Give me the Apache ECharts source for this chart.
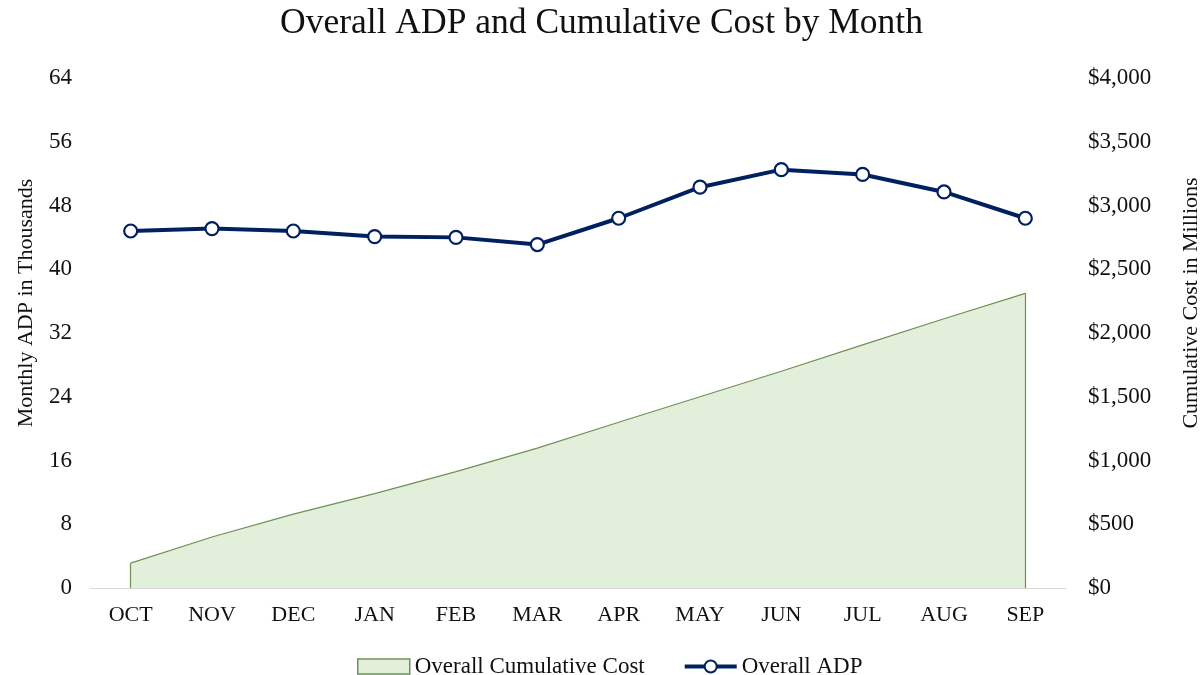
<!DOCTYPE html>
<html>
<head>
	<meta charset="utf-8">
	<title>Overall ADP and Cumulative Cost by Month</title>
	<script src="https://cdn.jsdelivr.net/npm/echarts@6/dist/echarts.min.js"></script>
	<style>
		html, body { margin: 0; padding: 0; background: #fff; }
		#container { width: 1203px; height: 675px; }
	</style>
</head>
<body>
<div id="container"></div>
<script type="text/javascript">
	var months = ['OCT', 'NOV', 'DEC', 'JAN', 'FEB', 'MAR', 'APR', 'MAY', 'JUN', 'JUL', 'AUG', 'SEP'];
	// monthly ADP, thousands
	var adp = [44.8, 45.1, 44.8, 44.1, 44.0, 43.1, 46.4, 50.3, 52.5, 51.9, 49.7, 46.4];
	// cumulative cost, millions of dollars
	var cumCost = [195, 400, 580, 740, 913, 1097, 1300, 1500, 1700, 1907, 2112, 2311];

	var serif = 'Liberation Serif';
	var ink = '#111';

	var myChart = echarts.init(document.getElementById('container'));

	var option = {
		animation: false,
		title: {
			text: 'Overall ADP and Cumulative Cost by Month',
			left: 'center',
			top: 1,
			textStyle: { fontFamily: serif, fontSize: 35.5, fontWeight: 'normal', color: ink }
		},
		legend: {
			top: 650,
			left: 352,
			itemWidth: 52,
			itemHeight: 15,
			itemGap: 38,
			textStyle: { fontFamily: serif, fontSize: 23, color: ink },
			data: [
				{ name: 'Overall Cumulative Cost', icon: 'rect',
				  itemStyle: { color: '#E2EFDA', borderColor: '#6F9154', borderWidth: 1.5 } },
				{ name: 'Overall ADP', lineStyle: { width: 4, color: '#002060' } }
			]
		},
		grid: { left: 90, right: 137, top: 78, bottom: 87, outerBoundsMode: 'none' },
		xAxis: {
			type: 'category',
			data: months,
			boundaryGap: true,
			axisLine: { lineStyle: { color: '#D9D9D9', width: 1 } },
			axisTick: { show: false },
			axisLabel: { fontFamily: serif, fontSize: 22, color: ink, margin: 16 }
		},
		yAxis: [{
			type: 'value',
			min: 0, max: 64, interval: 8,
			name: 'Monthly ADP in Thousands',
			nameLocation: 'middle',
			nameRotate: 90,
			nameGap: 53,
			nameTextStyle: { fontFamily: serif, fontSize: 22, color: ink, padding: [0, 0, 0, 60] },
			axisLine: { show: false },
			axisTick: { show: false },
			splitLine: { show: false },
			axisLabel: { fontFamily: serif, fontSize: 23, color: ink, margin: 18 }
		}, {
			type: 'value',
			position: 'right',
			min: 0, max: 4000, interval: 500,
			name: 'Cumulative Cost in Millions',
			nameLocation: 'middle',
			nameRotate: 90,
			nameGap: 114,
			nameTextStyle: { fontFamily: serif, fontSize: 22, color: ink, padding: [0, 0, 0, 60] },
			axisLine: { show: false },
			axisTick: { show: false },
			splitLine: { show: false },
			axisLabel: {
				fontFamily: serif, fontSize: 23, color: ink, margin: 22,
				formatter: function (v) { return '$' + v.toLocaleString('en-US'); }
			}
		}],
		series: [{
			name: 'Overall Cumulative Cost',
			type: 'line',
			yAxisIndex: 1,
			data: cumCost,
			symbol: 'none',
			lineStyle: { color: '#6F9154', width: 1.2 },
			itemStyle: { color: '#E2EFDA', borderColor: '#6F9154' },
			areaStyle: { color: '#E2EFDA', opacity: 1 },
			z: 1,
			markLine: {
				silent: true,
				symbol: 'none',
				label: { show: false },
				lineStyle: { color: '#6F9154', width: 1.2, type: 'solid' },
				data: [
					[{ coord: [months[0], 0] }, { coord: [months[0], cumCost[0]] }],
					[{ coord: [months[months.length - 1], 0] }, { coord: [months[months.length - 1], cumCost[cumCost.length - 1]] }]
				]
			}
		}, {
			name: 'Overall ADP',
			type: 'line',
			yAxisIndex: 0,
			data: adp,
			symbol: 'circle',
			symbolSize: 13,
			lineStyle: { color: '#002060', width: 4 },
			itemStyle: { color: '#fff', borderColor: '#002060', borderWidth: 2.2 },
			z: 5
		}]
	};

	myChart.setOption(option);
</script>
</body>
</html>
